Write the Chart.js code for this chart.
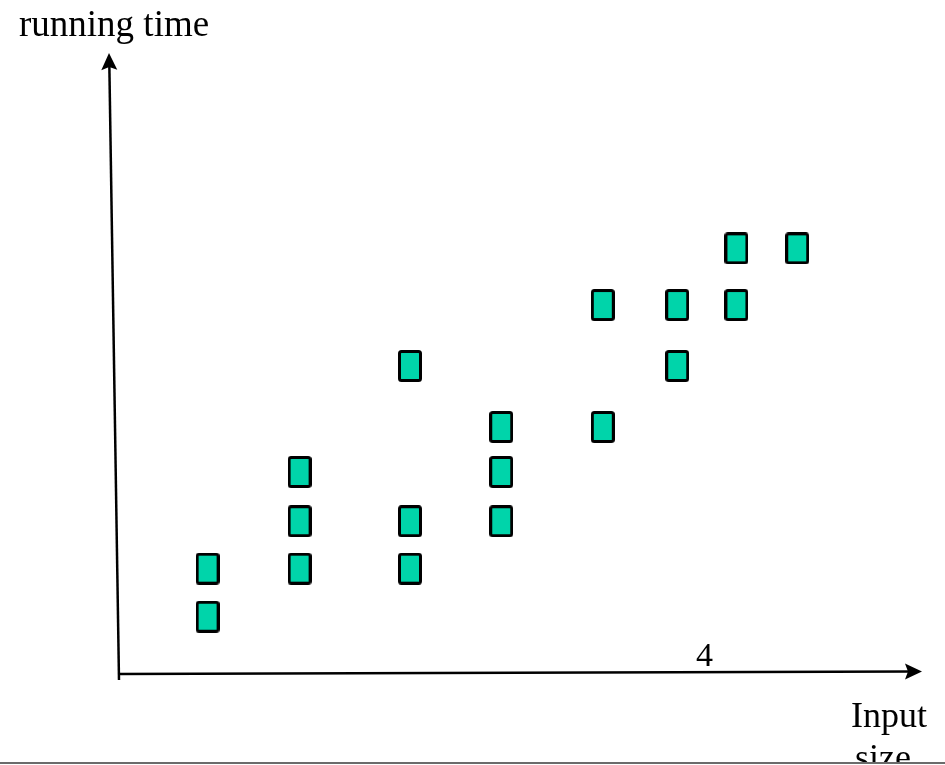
<!DOCTYPE html>
<html lang="en">
<head>
  <meta charset="UTF-8">
  <title>Running time vs input size</title>
  <script src="https://cdn.jsdelivr.net/npm/chart.js"></script>
  <style>
    html, body { margin: 0; padding: 0; background: #fff; }
    canvas { display: block; }
  </style>
</head>
<body>
  <canvas id="timeChart" width="945" height="765"></canvas>

  <script>
    const inputSize   = [1.12, 1.12, 2.27, 2.27, 2.27, 3.65, 3.65, 3.65, 4.79, 4.79, 4.79, 6.06, 6.06, 6.99, 6.99, 7.73, 7.73, 8.49];
    const runningTime = [0.93, 1.71, 1.71, 2.48, 3.28, 1.71, 2.48, 5.00, 2.48, 3.28, 4.01, 4.01, 5.99, 5.00, 5.99, 5.99, 6.91, 6.91];

    const yTitle = "running time";
    const xTitle = ["Input", "size"];
    const stray = "4";

    const points = inputSize.map((x, i) => ({ x: x, y: runningTime[i] }));

    // rectangular marker, like the boxes in the slide
    const box = document.createElement("canvas");
    box.width = 24;
    box.height = 32;
    const bx = box.getContext("2d");
    bx.fillStyle = "#00d4aa";
    bx.strokeStyle = "#000";
    bx.lineWidth = 3;
    bx.beginPath();
    bx.roundRect(1.5, 1.5, 21, 29, 2);
    bx.fill();
    bx.stroke();

    function arrowHead(ctx, tipX, tipY, angle) {
      ctx.save();
      ctx.translate(tipX, tipY);
      ctx.rotate(angle);
      ctx.beginPath();
      ctx.moveTo(0, 0);
      ctx.lineTo(-17, -8);
      ctx.lineTo(-14, 0);
      ctx.lineTo(-17, 8);
      ctx.closePath();
      ctx.fill();
      ctx.restore();
    }

    const axesPlugin = {
      id: "arrowAxes",
      afterDraw(chart) {
        const { ctx, chartArea: a } = chart;
        ctx.save();
        ctx.strokeStyle = "#000";
        ctx.fillStyle = "#000";
        ctx.lineWidth = 2.5;

        // y axis (slightly slanted, as drawn by hand)
        const y0 = { x: a.left + 1, y: a.bottom + 6 };
        const y1 = { x: a.left - 9, y: a.top - 5 };
        ctx.beginPath();
        ctx.moveTo(y0.x, y0.y);
        ctx.lineTo(y1.x + 0.3, y1.y + 10);
        ctx.stroke();
        arrowHead(ctx, y1.x, y1.y, Math.atan2(y1.y - y0.y, y1.x - y0.x));

        // x axis
        const x0 = { x: a.left, y: a.bottom };
        const x1 = { x: a.right + 4, y: a.bottom - 2.5 };
        ctx.beginPath();
        ctx.moveTo(x0.x, x0.y);
        ctx.lineTo(x1.x - 10, x1.y);
        ctx.stroke();
        arrowHead(ctx, x1.x, x1.y, Math.atan2(x1.y - x0.y, x1.x - x0.x));

        // texts
        ctx.font = "37px 'Liberation Serif', serif";
        ctx.textBaseline = "alphabetic";
        ctx.textAlign = "left";
        ctx.fillText(yTitle, 19, 36);
        ctx.font = "36px 'Liberation Serif', serif";
        ctx.fillText(xTitle[0], 851, 727);
        ctx.fillText(xTitle[1], 855, 769);
        ctx.font = "34px 'Liberation Serif', serif";
        ctx.fillText(stray, 696, 666);

        // bottom rule that cuts the label
        ctx.fillStyle = "#fff";
        ctx.fillRect(0, 764, chart.width, 2);
        ctx.fillStyle = "#6b6b6b";
        ctx.fillRect(0, 762, chart.width, 2);
        ctx.restore();
      }
    };

    new Chart(document.getElementById("timeChart"), {
      type: "scatter",
      data: {
        datasets: [{
          label: "running time",
          data: points,
          pointStyle: box,
          pointRadius: 16,
          pointHoverRadius: 16
        }]
      },
      options: {
        responsive: false,
        animation: false,
        layout: { padding: { left: 118, right: 27, top: 58, bottom: 91 } },
        scales: {
          x: { type: "linear", min: 0, max: 10, display: false },
          y: { type: "linear", min: 0, max: 10, display: false }
        },
        plugins: {
          legend: { display: false },
          tooltip: { enabled: false }
        },
        clip: false
      },
      plugins: [axesPlugin]
    });
  </script>
</body>
</html>
